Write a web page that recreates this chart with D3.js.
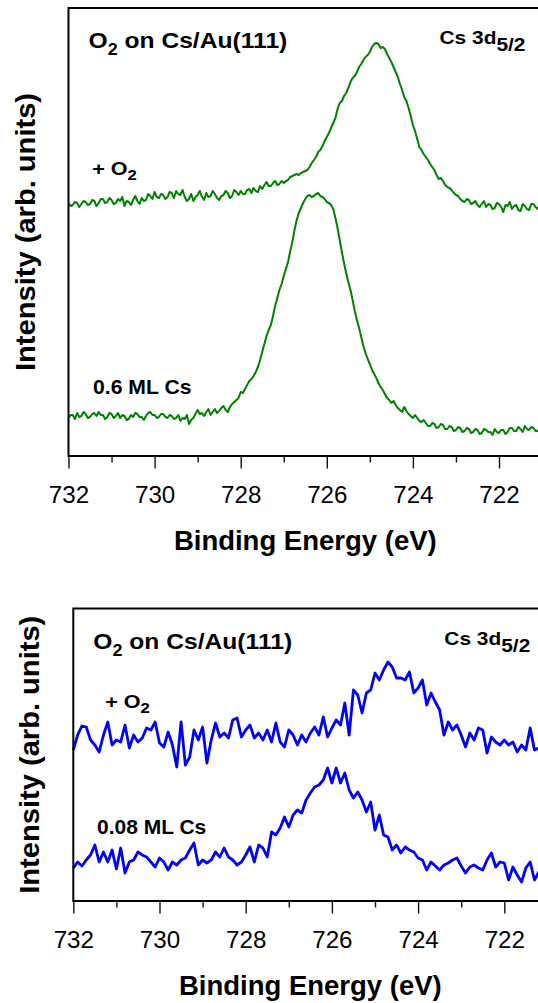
<!DOCTYPE html>
<html><head><meta charset="utf-8">
<script src="https://cdn.jsdelivr.net/npm/d3@7"></script>
<style>
html,body{margin:0;padding:0;background:#fff;overflow:hidden}
svg{display:block}
text{font-family:"Liberation Sans",Arial,Helvetica,sans-serif;white-space:pre;fill:#000}
</style>
</head><body>
<svg id="chart" width="538" height="1003"></svg>
<script>
// ---- data ----
const energyStart = 732;      // eV, first sample of every spectrum
const stepHighCs = 0.05;      // eV between samples, 0.6 ML spectra
const stepLowCs = 0.1;        // eV between samples, 0.08 ML spectra
const xTicks = [732, 730, 728, 726, 724, 722];
const xMinorTicks = [731, 729, 727, 725, 723, 721];
const xDomain = [732, 721];

// Panel 1 : 0.6 ML Cs (arb. units)
const highCsO2 = [
  253,250,251,254,253,249,252,255,254,251,252,256,255,250,253,257,257,253,254,258,
  256,252,253,257,255,259,250,255,254,251,256,260,255,252,258,255,256,262,260,257,
  264,259,258,262,261,257,259,264,263,258,265,262,261,266,259,255,257,262,255,259,
  261,265,259,256,263,259,260,265,262,258,256,260,261,265,263,258,260,266,264,261,
  265,262,262,266,267,263,268,265,264,270,267,271,274,270,270,273,275,271,272,275,
  273,275,276,279,280,281,282,281,283,284,285,286,289,293,296,299,304,306,310,315,
  319,323,328,333,338,347,353,355,360,363,368,374,378,380,384,389,392,396,399,401,
  404,409,412,413,412,408,409,407,402,398,394,389,384,379,372,366,359,355,348,340,
  331,325,317,309,306,302,299,296,292,289,286,281,277,278,275,271,269,268,266,263,
  261,260,257,255,254,257,256,252,253,255,251,249,252,255,249,252,251,247,248,253,
  252,249,244,251,250,254,247,250,251,246,245,252,250,247,246,252,252,249,247,251,
  249];
const highCs = [
  38,41,41,37,43,39,40,44,42,38,39,42,43,40,44,41,41,37,39,43,
  42,38,40,43,38,41,40,36,37,41,39,43,42,39,39,36,40,43,44,41,
  41,38,39,42,42,39,38,41,40,37,38,41,35,38,37,41,32,36,38,42,
  46,42,43,40,44,47,41,44,47,43,45,48,50,46,44,49,52,54,56,58,
  64,63,67,71,75,77,80,84,89,96,104,112,120,126,131,140,150,158,166,172,
  180,187,194,205,214,226,236,243,248,253,257,260,261,259,260,262,263,260,259,257,
  254,253,251,247,238,228,216,204,193,183,174,166,156,145,136,128,119,110,103,97,
  92,86,82,78,73,69,66,62,58,56,53,55,51,48,46,44,49,45,42,40,
  38,41,38,35,34,36,33,30,30,33,32,28,29,32,31,27,27,30,29,25,
  26,29,28,24,25,28,27,23,24,27,26,22,23,27,26,24,24,21,27,24,
  23,26,26,22,24,28,28,25,25,29,27,24,30,27,26,29,28,25,25,29,
  28];

// Panel 2 : 0.08 ML Cs (arb. units)
const lowCsO2 = [151,166,175,174,161,156,149,166,179,156,
  161,159,176,153,166,159,163,173,171,179,
  158,154,169,156,134,179,136,144,171,161,
  174,138,161,178,164,168,163,181,183,164,
  171,176,163,168,161,171,159,178,159,154,
  171,166,156,166,159,168,174,166,184,164,
  173,181,176,198,166,211,206,188,208,211,
  228,221,231,239,234,223,223,221,229,208,
  213,221,196,208,199,191,166,179,171,176,
  166,154,168,161,173,171,148,164,159,156,
  161,156,159,149,156,151,173,151,153,159,156];
const lowCs = [33,39,35,41,46,56,39,49,39,51,
  32,53,28,39,41,49,46,44,39,34,
  43,39,31,39,36,41,43,51,58,36,
  41,38,41,49,44,53,44,41,36,39,
  46,54,39,56,53,44,69,66,73,84,
  74,86,91,88,101,108,114,116,121,133,
  118,133,118,128,111,103,109,101,89,99,
  71,86,66,64,51,56,48,54,51,49,
  43,41,31,39,35,31,36,38,41,43,
  35,28,34,36,33,31,41,48,34,39,
  38,21,34,26,19,33,39,21,29,25,31];

const panelTitle = ["O", "2", " on Cs/Au(111)"];
const peakLabel = ["Cs 3d", "5/2"];
const xTitle = "Binding Energy (eV)";
const yTitle = "Intensity (arb. units)";

// ---- layout ----
const panels = [
  {left: 68.5, right: 542.05, top: 8, bottom: 456, yMax: 448, color: "#008000", width: 2,
   step: stepHighCs, series: [highCsO2, highCs],
   labels: [{t: ["+ O", "2"], e: 731.45, v: 281, sx: 1.2},
            {t: ["0.6 ML Cs"], e: 731.43, v: 62, sx: 1.06}]},
  {left: 73.3, right: 547.4, top: 608.5, bottom: 901, yMax: 292.5, color: "#0000ff", width: 2.8,
   step: stepLowCs, series: [lowCsO2, lowCs],
   labels: [{t: ["+ O", "2"], e: 731.26, v: 193, sx: 1.2},
            {t: ["0.08 ML Cs"], e: 731.45, v: 67, sx: 1.05}]}
];

const svg = d3.select("#chart");

panels.forEach(p => {
  const x = d3.scaleLinear().domain(xDomain).range([p.left, p.right]);
  const y = d3.scaleLinear().domain([0, p.yMax]).range([p.bottom, p.top]);
  const g = svg.append("g");

  const line = d3.line()
    .x((d, i) => x(energyStart - i * p.step))
    .y(d => y(d));

  p.series.forEach(s => {
    g.append("path").datum(s)
      .attr("d", line)
      .attr("fill", "none")
      .attr("stroke", p.color)
      .attr("stroke-width", p.width)
      .attr("stroke-linejoin", "round");
  });

  // frame
  g.append("rect")
    .attr("x", p.left).attr("y", p.top)
    .attr("width", p.right - p.left).attr("height", p.bottom - p.top)
    .attr("fill", "none").attr("stroke", "#000").attr("stroke-width", 2);

  // major ticks with labels
  const ax = g.append("g").attr("transform", `translate(0,${p.bottom})`)
    .call(d3.axisBottom(x).tickValues(xTicks).tickSize(12.5).tickSizeOuter(0).tickFormat(d3.format("d")));
  ax.select(".domain").remove();
  ax.selectAll(".tick line").attr("stroke", "#111").attr("stroke-width", 1.4);
  ax.selectAll(".tick text")
    .attr("y", 47).attr("dy", null)
    .attr("transform", "scale(1.05,1)")
    .style("font-size", "23px").attr("font-family", null);

  // minor ticks
  const mx = g.append("g").attr("transform", `translate(0,${p.bottom})`)
    .call(d3.axisBottom(x).tickValues(xMinorTicks).tickSize(6.5).tickSizeOuter(0).tickFormat(""));
  mx.select(".domain").remove();
  mx.selectAll(".tick line").attr("stroke", "#111").attr("stroke-width", 1.4);

  // x title
  g.append("text")
    .attr("x", (x(xDomain[0]) + x(xDomain[1])) / 2)
    .attr("y", p.bottom + 94)
    .attr("text-anchor", "middle")
    .style("font-size", "27.5px").style("font-weight", "bold")
    .text(xTitle);

  // y title
  g.append("g")
    .attr("transform", `translate(${p.left - 34},${(p.top + p.bottom) / 2}) rotate(-90) scale(1.04,1)`)
    .append("text")
    .attr("text-anchor", "middle")
    .style("font-size", "28px").style("font-weight", "bold")
    .text(yTitle);

  // panel title
  const pt = g.append("g")
    .attr("transform", `translate(${p.left + 20},${p.top + 40}) scale(1.12,1)`)
    .append("text").style("font-size", "22px").style("font-weight", "bold");
  pt.append("tspan").text(panelTitle[0]);
  pt.append("tspan").attr("dy", 7).style("font-size", "16px").text(panelTitle[1]);
  pt.append("tspan").attr("dy", -7).text(panelTitle[2]);

  // peak label
  const pk = g.append("g")
    .attr("transform", `translate(${p.left + 371},${p.top + 36}) scale(1.1,1)`)
    .append("text").style("font-size", "19px").style("font-weight", "bold");
  pk.append("tspan").text(peakLabel[0]);
  pk.append("tspan").attr("dy", 7).text(peakLabel[1]);

  // curve labels
  p.labels.forEach(l => {
    const t = g.append("g")
      .attr("transform", `translate(${x(l.e)},${y(l.v)}) scale(${l.sx},1)`)
      .append("text").style("font-weight", "bold")
      .style("font-size", l.t.length > 1 ? "18px" : "20px");
    t.append("tspan").text(l.t[0]);
    if (l.t.length > 1) t.append("tspan").attr("dy", 5).style("font-size", "14px").text(l.t[1]);
  });
});
</script>
</body></html>
